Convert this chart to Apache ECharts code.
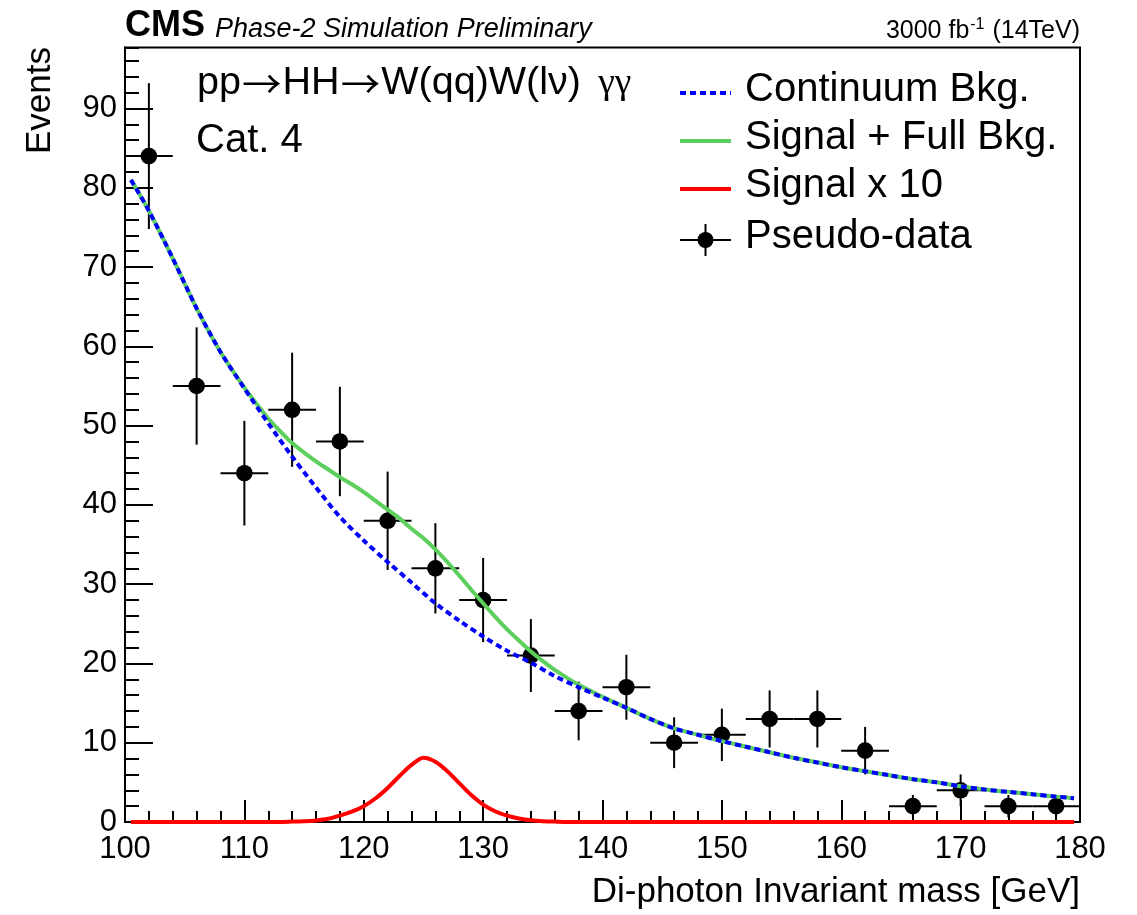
<!DOCTYPE html>
<html>
<head>
<meta charset="utf-8">
<script src="https://cdn.jsdelivr.net/npm/echarts@6/dist/echarts.min.js"></script>
<style>
  html, body { margin: 0; padding: 0; background: #fff; }
  #chart { width: 1137px; height: 915px; }
</style>
</head>
<body>
<div id="chart"></div>
<script>
// Di-photon invariant mass grid (GeV) for the continuum background fit
const bkgMass = [100.5, 102, 104, 106, 108, 110, 112, 114, 116, 118, 120, 122, 124, 126, 128, 130,
  132, 134, 136, 138, 140, 142, 144, 146, 148, 150, 152, 154, 156, 158, 160, 162, 164, 166, 168,
  170, 172, 174, 176, 178, 179.5];

// Continuum background fit (events)
const continuumBkg = [81.0, 77.1, 71.1, 64.8, 59.3, 54.7, 50.3, 46.1, 42.2, 38.5, 35.5, 32.8, 30.2,
  27.6, 25.4, 23.4, 21.6, 20.1, 18.4, 17.0, 15.7, 14.4, 13.0, 11.8, 11.0, 10.2, 9.5, 8.8, 8.1, 7.5,
  6.9, 6.4, 5.9, 5.4, 5.0, 4.5, 4.1, 3.8, 3.5, 3.2, 3.0];

// Signal + full background (continuum + resonant) fit: mass grid and events
const fullMass = [100.5, 102, 104, 106, 108, 110, 111, 112, 113, 114, 115, 116, 117, 118, 119, 120,
  121, 122, 123, 124, 125, 126, 127, 128, 129, 130, 131, 132, 133, 134, 135, 136, 138, 140, 142,
  144, 146, 148, 150, 152, 154, 156, 158, 160, 162, 164, 166, 168, 170, 172, 174, 176, 178, 179.5];
const signalFullBkg = [81.0, 77.1, 71.1, 64.8, 59.3, 54.8, 52.8, 50.9, 49.3, 47.8, 46.6, 45.5, 44.5,
  43.5, 42.6, 41.6, 40.5, 39.4, 38.3, 37.0, 35.8, 34.4, 32.8, 31.1, 29.3, 27.6, 25.9, 24.3, 22.9,
  21.5, 20.3, 19.2, 17.3, 15.8, 14.4, 13.0, 11.8, 11.0, 10.2, 9.5, 8.8, 8.1, 7.5, 6.9, 6.4, 5.9,
  5.4, 5.0, 4.5, 4.1, 3.8, 3.5, 3.2, 3.0];

// Signal shape scaled by 10
const signalMass = [100.5, 104, 108, 112, 114, 115, 116, 117, 118, 119, 120, 121, 122, 123, 124, 125, 126, 127,
  128, 129, 130, 131, 132, 133, 134, 135, 136, 138, 142, 146, 150, 160, 170, 179.5];
const signalX10 = [0, 0, 0, 0, 0.05, 0.1, 0.2, 0.4, 0.8, 1.3, 2.0, 3.0, 4.3, 5.8, 7.2, 8.1, 7.6, 6.4,
  4.9, 3.4, 2.2, 1.35, 0.8, 0.45, 0.22, 0.1, 0.05, 0, 0, 0, 0, 0, 0, 0];

// Pseudo-data: bin centres, counts and vertical uncertainties
const binCenter = [102, 106, 110, 114, 118, 122, 126, 130, 134, 138, 142, 146, 150, 154, 158, 162,
  166, 170, 174, 178];
const pseudoData = [84, 55, 44, 52, 48, 38, 32, 28, 21, 14, 17, 10, 11, 13, 13, 9, 2, 4, 2, 2];
const dataErr = [9.2, 7.4, 6.6, 7.2, 6.9, 6.2, 5.7, 5.3, 4.6, 3.7, 4.1, 3.2, 3.3, 3.6, 3.6, 3.0,
  1.4, 2.0, 1.4, 1.4];
const binHalfWidth = [2, 2, 2, 2, 2, 2, 2, 2, 2, 2, 2, 2, 2, 2, 2, 2, 2, 2, 2, 2];

// Axis ranges and tick spacing
const xRange = [100, 180];
const yRange = [0, 97.7];
const xMajor = 10, xMinor = 2, yMajor = 10, yMinor = 2;

// Legend entries
const legendLabels = ['Continuum Bkg.', 'Signal + Full Bkg.', 'Signal x 10', 'Pseudo-data'];

const FONT = '"Liberation Sans", Arial, Helvetica, sans-serif';
const BLUE = '#0000ff', GREEN = '#5ccf5c', RED = '#ff0000';

const chart = echarts.init(document.getElementById('chart'), null, { renderer: 'canvas' });

const pairs = (xs, ys) => xs.map((x, i) => [x, ys[i]]);

function txt(props) {
  const s = props.style;
  if (s.textAlign) s.align = s.textAlign;
  if (s.textVerticalAlign) s.verticalAlign = s.textVerticalAlign;
  return Object.assign({ type: 'text', z: 100, silent: true }, props);
}

// legend geometry
const legX0 = 680, legX1 = 731, legTextX = 745;
const legY = [93, 141, 189, 240];

const graphics = [
  txt({ x: 125, y: 26, style: { text: 'CMS', fill: '#000', fontFamily: FONT, fontWeight: 'bold', fontSize: 36, textAlign: 'left', textVerticalAlign: 'middle' } }),
  txt({ x: 215, y: 29, style: { text: 'Phase-2 Simulation Preliminary', fill: '#000', fontFamily: FONT, fontStyle: 'italic', fontSize: 27, textAlign: 'left', textVerticalAlign: 'middle' } }),
  txt({ x: 1080, y: 31, style: { text: '3000 fb{sup|-1} (14TeV)', fill: '#000', fontFamily: FONT, fontSize: 25, textAlign: 'right', textVerticalAlign: 'middle',
    rich: { sup: { fontSize: 16, fontFamily: FONT, fill: '#000', verticalAlign: 'top', padding: [0, 1, 12, 1] } } } }),
  txt({ x: 197, y: 84, scaleX: 1.04, style: {
    text: '{t|pp}{a|\u2192}{t|HH}{a|\u2192}{t|W(qq)W(l\u03bd) }{g|\u03b3\u03b3}',
    fill: '#000', fontFamily: FONT, fontSize: 38, textAlign: 'left', textVerticalAlign: 'middle',
    rich: {
      t: { fontFamily: FONT, fontSize: 38, fill: '#000' },
      a: { fontFamily: '"Noto Sans CJK SC", "DejaVu Sans", sans-serif', fontSize: 38, fill: '#000', padding: [0, 1, 0, 1] },
      g: { fontFamily: '"Liberation Serif", "DejaVu Serif", serif', fontSize: 36, fill: '#000', padding: [0, 0, 0, 6] }
    } } }),
  txt({ x: 196, y: 141, style: { text: 'Cat. 4', fill: '#000', fontFamily: FONT, fontSize: 40, textAlign: 'left', textVerticalAlign: 'middle' } }),
  txt({ x: 40, y: 47, rotation: Math.PI / 2, style: { text: 'Events', fill: '#000', fontFamily: FONT, fontSize: 35, textAlign: 'right', textVerticalAlign: 'middle' } }),
  txt({ x: 1080, y: 892, style: { text: 'Di-photon Invariant mass [GeV]', fill: '#000', fontFamily: FONT, fontSize: 35, textAlign: 'right', textVerticalAlign: 'middle' } }),
  // legend symbols
  { type: 'line', z: 100, silent: true, shape: { x1: legX0, y1: legY[0], x2: legX1, y2: legY[0] }, style: { stroke: BLUE, lineWidth: 4, lineDash: [6, 4] } },
  { type: 'line', z: 100, silent: true, shape: { x1: legX0, y1: legY[1], x2: legX1, y2: legY[1] }, style: { stroke: GREEN, lineWidth: 4 } },
  { type: 'line', z: 100, silent: true, shape: { x1: legX0, y1: legY[2], x2: legX1, y2: legY[2] }, style: { stroke: RED, lineWidth: 4 } },
  { type: 'line', z: 100, silent: true, shape: { x1: legX0, y1: legY[3], x2: legX1, y2: legY[3] }, style: { stroke: '#000', lineWidth: 2 } },
  { type: 'line', z: 100, silent: true, shape: { x1: (legX0 + legX1) / 2, y1: legY[3] - 16, x2: (legX0 + legX1) / 2, y2: legY[3] + 16 }, style: { stroke: '#000', lineWidth: 2 } },
  { type: 'circle', z: 100, silent: true, shape: { cx: (legX0 + legX1) / 2, cy: legY[3], r: 8 }, style: { fill: '#000' } }
];
legendLabels.forEach((label, i) => {
  graphics.push(txt({ x: legTextX, y: legY[i] - 3, style: { text: label, fill: '#000', fontFamily: FONT, fontSize: 40, textAlign: 'left', textVerticalAlign: 'middle' } }));
});

const axisLineStyle = { color: '#000', width: 2 };

const option = {
  animation: false,
  backgroundColor: '#fff',
  grid: { left: 125, right: 57, top: 47.5, bottom: 93, show: true, borderColor: '#000', borderWidth: 2, backgroundColor: 'transparent' },
  xAxis: [
    {
      type: 'value', min: xRange[0], max: xRange[1], interval: xMajor,
      axisLine: { show: true, onZero: false, lineStyle: axisLineStyle },
      axisTick: { show: true, inside: true, length: 22, lineStyle: axisLineStyle },
      minorTick: { show: true, splitNumber: xMajor / xMinor, length: 11, lineStyle: axisLineStyle },
      splitLine: { show: false },
      axisLabel: { fontSize: 31, color: '#000', fontFamily: FONT, margin: 12 }
    }
  ],
  yAxis: [
    {
      type: 'value', min: yRange[0], max: yRange[1], interval: yMajor,
      axisLine: { show: true, onZero: false, lineStyle: axisLineStyle },
      axisTick: { show: true, inside: true, length: 28, lineStyle: axisLineStyle },
      splitLine: { show: false },
      axisLabel: { fontSize: 31, color: '#000', fontFamily: FONT, margin: 8, showMaxLabel: false,
        formatter: v => (v % yMajor === 0 ? String(v) : '') }
    },
    {
      // fine ticks every 2 events along the same axis
      type: 'value', min: yRange[0], max: yRange[1], interval: yMinor, position: 'left',
      axisLine: { show: false },
      axisTick: { show: true, inside: true, length: 14, lineStyle: axisLineStyle },
      splitLine: { show: false },
      axisLabel: { show: false }
    }
  ],
  graphic: { elements: graphics },
  series: [
    {
      type: 'custom', name: 'Pseudo-data', z: 2, clip: false,
      data: binCenter.map((x, i) => [x, pseudoData[i], dataErr[i], binHalfWidth[i]]),
      renderItem: (params, api) => {
        const x = api.value(0), y = api.value(1), e = api.value(2), w = api.value(3);
        const c = api.coord([x, y]);
        const top = api.coord([x, y + e]);
        const bot = api.coord([x, Math.max(y - e, 0)]);
        const lft = api.coord([x - w, y]);
        const rgt = api.coord([x + w, y]);
        const ls = { stroke: '#000', lineWidth: 2 };
        return {
          type: 'group',
          children: [
            { type: 'line', shape: { x1: c[0], y1: top[1], x2: c[0], y2: bot[1] }, style: ls },
            { type: 'line', shape: { x1: lft[0], y1: c[1], x2: rgt[0], y2: c[1] }, style: ls },
            { type: 'circle', shape: { cx: c[0], cy: c[1], r: 8.3 }, style: { fill: '#000' } }
          ]
        };
      }
    },
    {
      type: 'line', name: 'Signal + Full Bkg.', z: 3, data: pairs(fullMass, signalFullBkg),
      smooth: 0.3, symbol: 'none',
      lineStyle: { color: GREEN, width: 4 }
    },
    {
      type: 'line', name: 'Continuum Bkg.', z: 4, data: pairs(bkgMass, continuumBkg),
      smooth: 0.3, symbol: 'none',
      lineStyle: { color: BLUE, width: 4, type: [6, 4] }
    },
    {
      type: 'line', name: 'Signal x 10', z: 5, data: pairs(signalMass, signalX10),
      smooth: 0.3, symbol: 'none',
      lineStyle: { color: RED, width: 4 }
    }
  ]
};

chart.setOption(option);
</script>
</body>
</html>
